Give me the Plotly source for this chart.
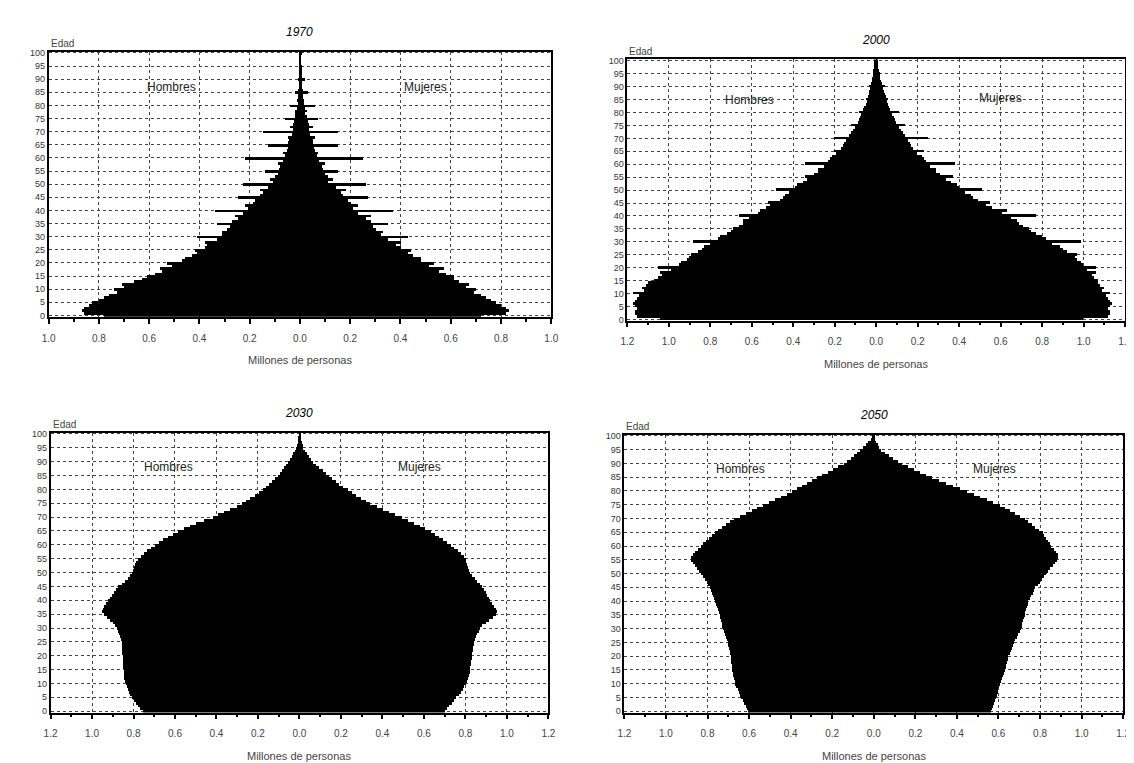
import plotly.graph_objects as go

# ---------------- data (millions of persons, single ages 0..100) ----------------
ages = list(range(0, 101))

male_1970 = [0.78, 0.86, 0.87, 0.86, 0.84, 0.83, 0.80, 0.78, 0.76, 0.73,
             0.74, 0.70, 0.71, 0.66, 0.63, 0.61, 0.58, 0.55, 0.56, 0.51,
             0.53, 0.47, 0.46, 0.43, 0.41, 0.42, 0.38, 0.37, 0.38, 0.33,
             0.41, 0.31, 0.31, 0.29, 0.28, 0.33, 0.27, 0.25, 0.26, 0.23,
             0.34, 0.21, 0.22, 0.19, 0.18, 0.25, 0.16, 0.15, 0.16, 0.13,
             0.23, 0.11, 0.12, 0.10, 0.09, 0.14, 0.085, 0.08, 0.09, 0.07,
             0.22, 0.06, 0.07, 0.055, 0.05, 0.13, 0.05, 0.045, 0.05, 0.035,
             0.15, 0.03, 0.04, 0.03, 0.025, 0.06, 0.02, 0.02, 0.02, 0.015,
             0.04, 0.01, 0.012, 0.01, 0.008, 0.02, 0.008, 0.007, 0.007, 0.005,
             0.01, 0.003, 0.003, 0.003, 0.002, 0.004, 0.002, 0.002, 0.002, 0.002,
             0.003]
female_1970 = [0.72, 0.82, 0.83, 0.82, 0.80, 0.78, 0.76, 0.74, 0.72, 0.69,
               0.70, 0.66, 0.67, 0.63, 0.61, 0.61, 0.58, 0.55, 0.57, 0.51,
               0.53, 0.48, 0.48, 0.45, 0.43, 0.44, 0.40, 0.38, 0.40, 0.35,
               0.43, 0.32, 0.33, 0.30, 0.29, 0.35, 0.28, 0.26, 0.28, 0.23,
               0.37, 0.21, 0.23, 0.20, 0.19, 0.27, 0.17, 0.16, 0.18, 0.14,
               0.26, 0.11, 0.13, 0.11, 0.10, 0.15, 0.09, 0.085, 0.10, 0.075,
               0.25, 0.065, 0.07, 0.06, 0.055, 0.15, 0.05, 0.05, 0.06, 0.04,
               0.15, 0.035, 0.05, 0.035, 0.03, 0.07, 0.025, 0.02, 0.025, 0.02,
               0.06, 0.015, 0.015, 0.012, 0.01, 0.03, 0.01, 0.008, 0.008, 0.006,
               0.02, 0.004, 0.004, 0.003, 0.003, 0.005, 0.002, 0.002, 0.002, 0.002,
               0.003]

male_2000 = [1.04, 1.15, 1.16, 1.16, 1.15, 1.16, 1.17, 1.16, 1.15, 1.14,
             1.17, 1.12, 1.13, 1.11, 1.10, 1.07, 1.05, 1.03, 1.04, 0.99,
             1.05, 0.95, 0.94, 0.91, 0.90, 0.89, 0.86, 0.84, 0.83, 0.80,
             0.88, 0.76, 0.75, 0.72, 0.70, 0.69, 0.66, 0.64, 0.64, 0.61,
             0.66, 0.57, 0.56, 0.53, 0.51, 0.52, 0.46, 0.45, 0.44, 0.42,
             0.48, 0.39, 0.38, 0.35, 0.33, 0.34, 0.30, 0.28, 0.28, 0.25,
             0.34, 0.23, 0.22, 0.21, 0.19, 0.20, 0.17, 0.16, 0.155, 0.145,
             0.20, 0.13, 0.12, 0.11, 0.10, 0.12, 0.085, 0.08, 0.075, 0.07,
             0.08, 0.06, 0.055, 0.05, 0.045, 0.05, 0.04, 0.035, 0.033, 0.03,
             0.035, 0.022, 0.02, 0.018, 0.016, 0.015, 0.012, 0.010, 0.009, 0.008,
             0.010]
female_2000 = [1.00, 1.12, 1.13, 1.13, 1.12, 1.13, 1.14, 1.13, 1.12, 1.11,
               1.13, 1.09, 1.10, 1.08, 1.07, 1.07, 1.05, 1.04, 1.06, 1.02,
               1.06, 1.00, 0.99, 0.97, 0.96, 0.97, 0.92, 0.90, 0.89, 0.85,
               0.99, 0.82, 0.80, 0.77, 0.75, 0.74, 0.71, 0.69, 0.68, 0.65,
               0.77, 0.61, 0.63, 0.56, 0.53, 0.55, 0.49, 0.47, 0.46, 0.43,
               0.51, 0.40, 0.39, 0.36, 0.34, 0.37, 0.31, 0.29, 0.29, 0.26,
               0.38, 0.24, 0.23, 0.22, 0.20, 0.23, 0.18, 0.17, 0.165, 0.155,
               0.25, 0.14, 0.13, 0.12, 0.11, 0.14, 0.095, 0.09, 0.085, 0.08,
               0.11, 0.07, 0.065, 0.06, 0.055, 0.06, 0.05, 0.045, 0.04, 0.035,
               0.045, 0.03, 0.026, 0.022, 0.019, 0.018, 0.014, 0.012, 0.010, 0.009,
               0.012]

male_2030 = [0.756, 0.77, 0.78, 0.79, 0.80, 0.81, 0.82, 0.825, 0.83, 0.835,
             0.84, 0.845, 0.848, 0.85, 0.85, 0.85, 0.852, 0.853, 0.854, 0.855,
             0.855, 0.856, 0.857, 0.858, 0.859, 0.86, 0.862, 0.866, 0.87, 0.875,
             0.88, 0.89, 0.90, 0.915, 0.93, 0.945, 0.955, 0.95, 0.945, 0.935,
             0.925, 0.915, 0.905, 0.895, 0.885, 0.875, 0.86, 0.845, 0.83, 0.82,
             0.81, 0.805, 0.80, 0.795, 0.79, 0.78, 0.765, 0.75, 0.735, 0.72,
             0.70, 0.68, 0.66, 0.635, 0.61, 0.59, 0.56, 0.53, 0.50, 0.46,
             0.42, 0.395, 0.365, 0.335, 0.305, 0.28, 0.26, 0.24, 0.215, 0.195,
             0.18, 0.165, 0.15, 0.135, 0.12, 0.106, 0.096, 0.086, 0.076, 0.066,
             0.056, 0.048, 0.04, 0.032, 0.024, 0.017, 0.013, 0.010, 0.007, 0.005,
             0.003]
female_2030 = [0.70, 0.71, 0.72, 0.735, 0.745, 0.755, 0.765, 0.775, 0.785, 0.79,
               0.80, 0.805, 0.81, 0.815, 0.818, 0.82, 0.822, 0.824, 0.826, 0.828,
               0.83, 0.832, 0.834, 0.836, 0.838, 0.84, 0.843, 0.848, 0.855, 0.862,
               0.87, 0.88, 0.895, 0.91, 0.93, 0.945, 0.95, 0.945, 0.935, 0.925,
               0.915, 0.91, 0.90, 0.895, 0.888, 0.88, 0.868, 0.855, 0.842, 0.83,
               0.82, 0.815, 0.81, 0.807, 0.803, 0.80, 0.79, 0.775, 0.76, 0.745,
               0.73, 0.71, 0.69, 0.67, 0.65, 0.63, 0.605, 0.58, 0.55, 0.52,
               0.49, 0.46, 0.43, 0.40, 0.37, 0.34, 0.32, 0.295, 0.27, 0.25,
               0.23, 0.21, 0.19, 0.175, 0.155, 0.14, 0.125, 0.11, 0.094, 0.078,
               0.062, 0.052, 0.042, 0.033, 0.025, 0.017, 0.013, 0.010, 0.007, 0.005,
               0.003]

male_2050 = [0.605, 0.61, 0.615, 0.622, 0.628, 0.635, 0.641, 0.647, 0.653, 0.659,
             0.665, 0.668, 0.671, 0.674, 0.677, 0.68, 0.681, 0.682, 0.684, 0.685,
             0.686, 0.689, 0.692, 0.695, 0.698, 0.70, 0.705, 0.71, 0.715, 0.72,
             0.724, 0.727, 0.73, 0.734, 0.737, 0.74, 0.744, 0.748, 0.752, 0.756,
             0.76, 0.765, 0.77, 0.775, 0.78, 0.785, 0.794, 0.803, 0.812, 0.821,
             0.83, 0.84, 0.85, 0.86, 0.868, 0.876, 0.88, 0.87, 0.86, 0.845,
             0.83, 0.818, 0.805, 0.79, 0.777, 0.764, 0.746, 0.728, 0.71, 0.69,
             0.67, 0.642, 0.614, 0.586, 0.558, 0.53, 0.502, 0.474, 0.446, 0.418,
             0.39, 0.366, 0.342, 0.318, 0.294, 0.27, 0.245, 0.22, 0.195, 0.17,
             0.143, 0.125, 0.108, 0.092, 0.078, 0.065, 0.05, 0.036, 0.024, 0.013,
             0.005]
female_2050 = [0.565, 0.57, 0.575, 0.58, 0.585, 0.59, 0.594, 0.598, 0.602, 0.606,
               0.61, 0.615, 0.619, 0.624, 0.628, 0.633, 0.636, 0.64, 0.643, 0.647,
               0.65, 0.655, 0.66, 0.666, 0.671, 0.676, 0.683, 0.69, 0.697, 0.704,
               0.71, 0.714, 0.717, 0.721, 0.724, 0.728, 0.731, 0.735, 0.738, 0.742,
               0.745, 0.752, 0.759, 0.766, 0.773, 0.78, 0.79, 0.80, 0.81, 0.82,
               0.83, 0.841, 0.852, 0.862, 0.872, 0.883, 0.887, 0.89, 0.88, 0.868,
               0.857, 0.848, 0.84, 0.831, 0.822, 0.814, 0.797, 0.78, 0.763, 0.745,
               0.728, 0.704, 0.68, 0.655, 0.631, 0.607, 0.576, 0.545, 0.513, 0.482,
               0.45, 0.416, 0.382, 0.348, 0.314, 0.28, 0.252, 0.224, 0.196, 0.168,
               0.14, 0.118, 0.096, 0.074, 0.055, 0.038, 0.028, 0.020, 0.013, 0.008,
               0.004]

years = ["1970", "2000", "2030", "2050"]
males = [male_1970, male_2000, male_2030, male_2050]
females = [female_1970, female_2000, female_2030, female_2050]
x_limits = [1.0, 1.2, 1.2, 1.2]
age_ticks = list(range(0, 101, 5))

# ---------------- layout geometry (pixels) ----------------
W, H = 1134, 763
panels = [  # x0, x1, ytop, ybottom
    (34, 543, 40, 308),
    (620, 1124, 48, 312),
    (36, 540, 425, 708),
    (617, 1122, 427, 708),
]
label_pos = [(-0.51, 87, 0.50, 87), (-0.61, 85, 0.60, 85.5),
             (-0.63, 88, 0.58, 88), (-0.64, 88, 0.58, 88)]

FONT = "Liberation Sans, Arial, sans-serif"
fig = go.Figure()
annotations = []
layout_axes = {}

for i, (yr, m, f, lim) in enumerate(zip(years, males, females, x_limits)):
    n = i + 1
    xa = "x" if n == 1 else f"x{n}"
    ya = "y" if n == 1 else f"y{n}"
    fig.add_trace(go.Bar(y=ages, x=[-v for v in m], orientation="h", xaxis=xa, yaxis=ya,
                         marker=dict(color="black", line=dict(width=0)), width=1.0,
                         showlegend=False, hoverinfo="skip", base=0))
    fig.add_trace(go.Bar(y=ages, x=f, orientation="h", xaxis=xa, yaxis=ya,
                         marker=dict(color="black", line=dict(width=0)), width=1.0,
                         showlegend=False, hoverinfo="skip", base=0))
    x0, x1, yt, yb = panels[i]
    dom_x = [x0 / W, x1 / W]
    dom_y = [1 - yb / H, 1 - yt / H]
    steps = int(round(lim / 0.2))
    tv = [round(k * 0.2, 1) for k in range(-steps, steps + 1)]
    tt = [f"{abs(v):.1f}" for v in tv]
    minor_vals = [round(k * 0.1, 1) for k in range(-2 * steps, 2 * steps + 1)]
    kx = "xaxis" if n == 1 else f"xaxis{n}"
    ky = "yaxis" if n == 1 else f"yaxis{n}"
    layout_axes[kx] = dict(
        domain=dom_x, anchor=ya, range=[-lim, lim], tickmode="array", tickvals=tv, ticktext=tt,
        showgrid=True, gridcolor="#444", griddash="dot", gridwidth=1, zeroline=False,
        showline=True, linecolor="black", linewidth=1.5, mirror=True,
        ticks="outside", ticklen=5, tickcolor="black", tickwidth=1.5, ticklabelstandoff=6,
        minor=dict(tickmode="array", tickvals=minor_vals, ticks="outside", ticklen=3,
                   tickcolor="black", showgrid=False),
        tickfont=dict(family=FONT, size=10, color="#444"), fixedrange=True,
    )
    layout_axes[ky] = dict(
        domain=dom_y, anchor=xa, range=[-0.5, 100.5], tickmode="array", tickvals=age_ticks,
        ticktext=[str(a) for a in age_ticks],
        showgrid=True, gridcolor="#444", griddash="dot", gridwidth=1, zeroline=False,
        showline=True, linecolor="black", linewidth=1.5, mirror=True,
        ticks="", tickfont=dict(family=FONT, size=9, color="#333"), fixedrange=True,
    )
    cx = (x0 + x1) / 2 / W
    annotations.append(dict(text=f"<i>{yr}</i>", x=cx, y=1 - (yt - 20) / H, xref="paper",
                            yref="paper", showarrow=False, xanchor="center", yanchor="middle",
                            font=dict(family=FONT, size=12, color="black")))
    annotations.append(dict(text="Edad", x=x0 / W, y=1 - (yt - 8) / H, xref="paper",
                            yref="paper", showarrow=False, xanchor="left", yanchor="middle",
                            font=dict(family=FONT, size=10, color="#444")))
    annotations.append(dict(text="Millones de personas", x=cx, y=1 - (yb + 44) / H,
                            xref="paper", yref="paper", showarrow=False, xanchor="center",
                            yanchor="middle", font=dict(family=FONT, size=11, color="#444")))
    hx, hy, mx, my = label_pos[i]
    annotations.append(dict(text="Hombres", x=hx, y=hy, xref=xa, yref=ya, showarrow=False,
                            font=dict(family=FONT, size=12, color="#222")))
    annotations.append(dict(text="Mujeres", x=mx, y=my, xref=xa, yref=ya, showarrow=False,
                            font=dict(family=FONT, size=12, color="#222")))

fig.update_layout(
    width=W, height=H, margin=dict(l=0, r=0, t=0, b=0),
    paper_bgcolor="white", plot_bgcolor="white",
    barmode="overlay", bargap=0, annotations=annotations, **layout_axes,
)

fig.write_html("out.html")
